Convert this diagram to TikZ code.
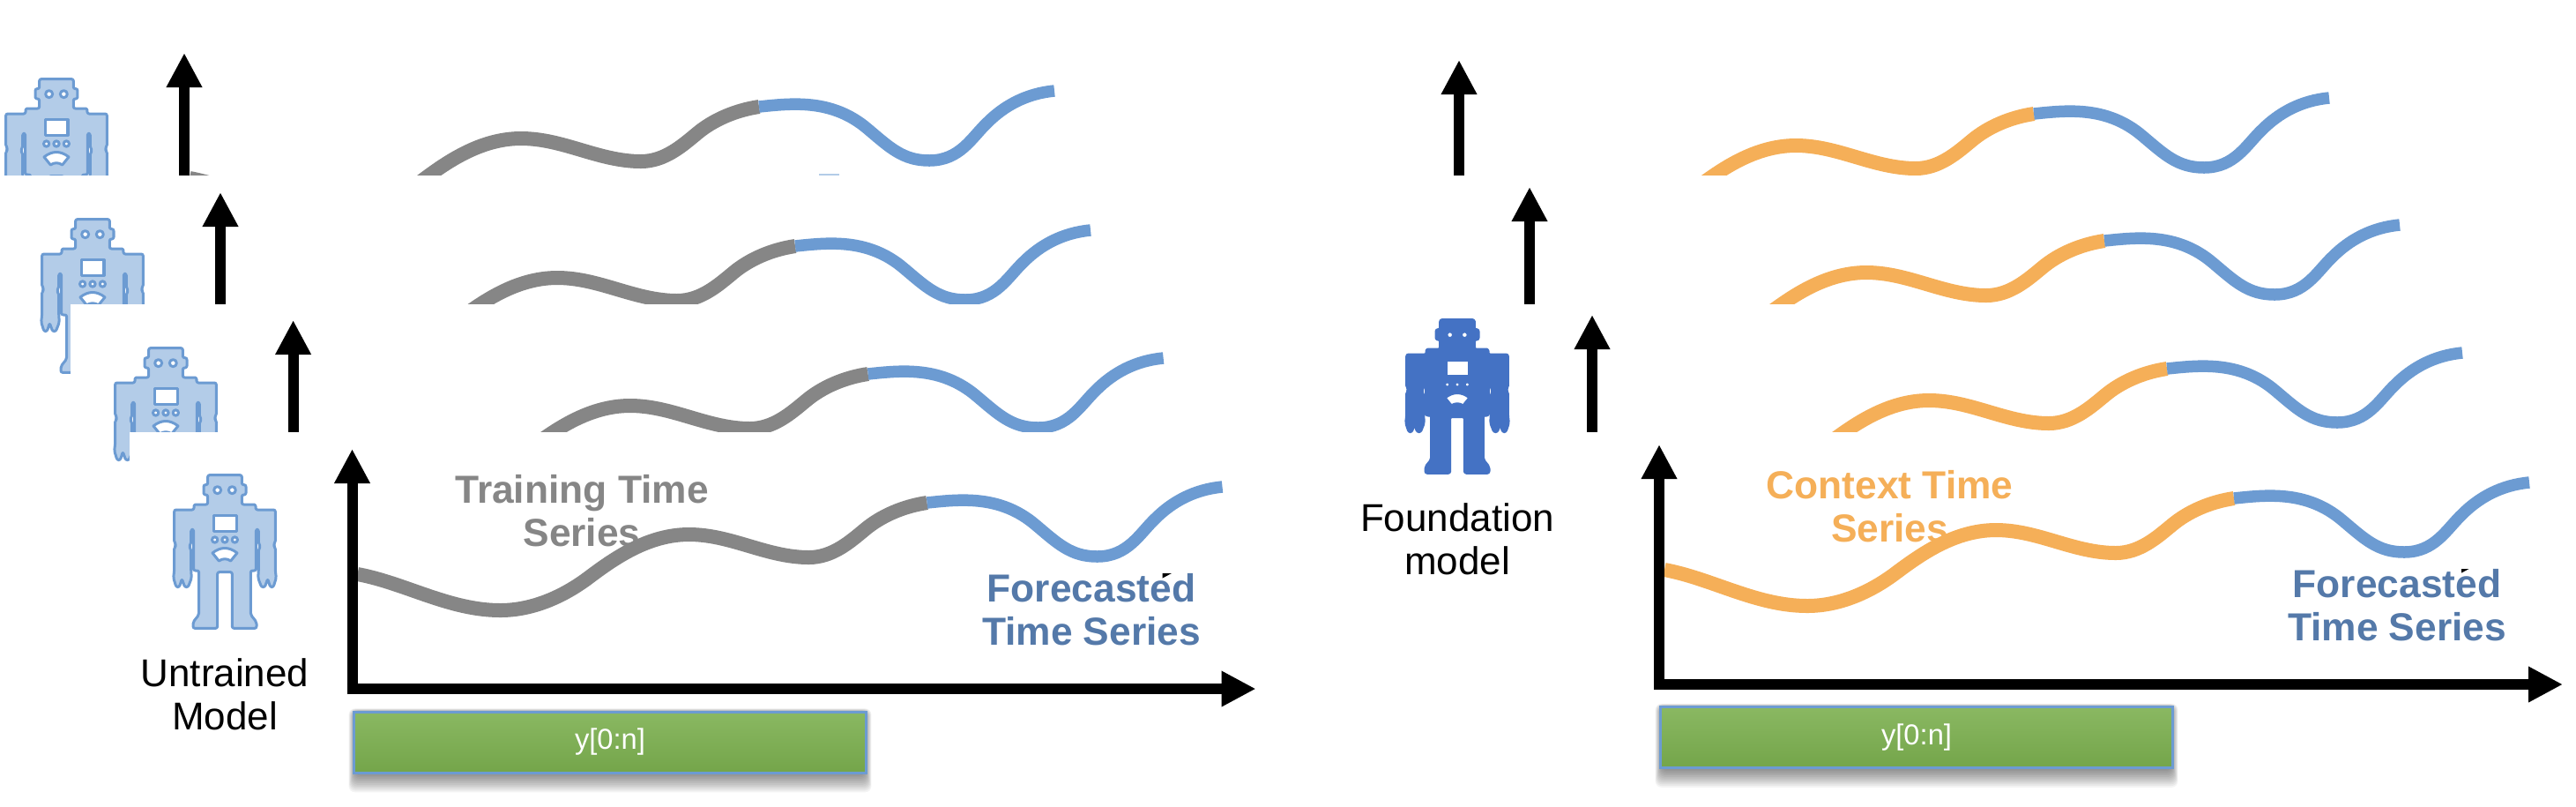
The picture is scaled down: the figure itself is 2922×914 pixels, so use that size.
\documentclass[tikz,border=0pt]{standalone}
\usepackage{fontspec}
\setmainfont{Liberation Sans}
\usetikzlibrary{arrows.meta}
\definecolor{robotline}{HTML}{6C9BD2}
\definecolor{robotfill}{HTML}{B3CCE8}
\definecolor{robotsolid}{HTML}{4472C4}
\definecolor{trainline}{HTML}{868686}
\definecolor{contextline}{HTML}{F5AF58}
\definecolor{forecasttext}{HTML}{5479A9}
\definecolor{bartop}{HTML}{8AB862}
\definecolor{barbottom}{HTML}{74A54A}
\tikzstyle{axis}=[draw=black, line width=.12cm, -{Triangle[length=.39cm, width=.38cm]}]
\tikzstyle{history}=[line width=.16cm]
\tikzstyle{forecast}=[draw=robotline, line width=.135cm]
\tikzstyle{modellabel}=[align=center, inner sep=0, font=\fontsize{12.5}{14}\selectfont]
\tikzstyle{serieslabel}=[align=center, inner sep=0, font=\fontsize{12.6}{14}\selectfont\bfseries]
\tikzstyle{greenbar}=[draw=robotline, line width=.03cm, minimum width=5.8cm, minimum height=.69cm, top color=bartop, bottom color=barbottom, text=white, font=\fontsize{9.3}{11}\selectfont]
\tikzset{
	pics/timepanel/.style={code={
		\coordinate (-ybase) at (0,6);
		\coordinate (-ytop) at (0,-272);
		\coordinate (-xbase) at (-6,0);
		\coordinate (-xend) at (1025,0);
		\draw[history, draw=#1] (6,-130) .. controls (60,-120) and (110,-89) .. (168,-89)
			.. controls (205,-89) and (240,-105) .. (268,-126)
			.. controls (296,-147) and (335,-175) .. (382,-175)
			.. controls (430,-175) and (470,-149) .. (518,-149)
			.. controls (545,-149) and (565,-167) .. (582,-181)
			.. controls (600,-196) and (625,-207) .. (652,-211);
		\draw[forecast] (652,-211) .. controls (690,-215) and (735,-220) .. (775,-186)
			.. controls (800,-165) and (815,-150) .. (845,-150)
			.. controls (880,-150) and (893,-176) .. (911,-193)
			.. controls (930,-212) and (955,-226) .. (987,-229);
		\draw[axis] (-ybase) -- (-ytop);
		\draw[axis] (-xbase) -- (-xend);
	}},
	pics/barshadow/.style={code={
		\foreach \g in {1,...,14}
			\fill[black, opacity=.045, rounded corners=2pt] (-288-.6*\g,-33+.4-.4*\g) rectangle (288+.6*\g,33+1.7*\g);
	}},
	pics/robot/.style 2 args={code={
		\begin{scope}[scale=.3333, draw=#1, line width=.03cm, line join=round]
			\draw[fill=#2, rounded corners=.6pt] (58,5) -- (58,38) -- (72,38) -- (72,72) -- (58,72) -- (58,105) -- (105,105)
				-- (105,123) -- (172,123) -- (172,235) -- (165,243) -- (172,250) -- (172,330) -- (175,355) -- (165,386)
				-- (155,386) -- (146,358) -- (136,386) -- (125,386) -- (113,355) -- (115,330) -- (115,255) -- (122,248)
				-- (115,240) -- (115,190) -- (106,190) -- (106,330) -- (88,330) -- (88,480) -- (108,505) -- (108,526)
				-- (25,526) -- (25,335) -- (-25,335) -- (-25,526) -- (-108,526) -- (-108,505) -- (-88,480) -- (-88,330)
				-- (-106,330) -- (-106,190) -- (-115,190) -- (-115,240) -- (-122,248) -- (-115,255) -- (-115,330)
				-- (-113,355) -- (-125,386) -- (-136,386) -- (-146,358) -- (-155,386) -- (-165,386) -- (-175,355)
				-- (-172,330) -- (-172,250) -- (-165,243) -- (-172,235) -- (-172,123) -- (-105,123) -- (-105,105)
				-- (-58,105) -- (-58,72) -- (-72,72) -- (-72,38) -- (-58,38) -- (-58,5) -- cycle;
			\draw[fill=white] (-39,143) rectangle (39,195);
			\foreach \ex in {-25,25}
				\draw[fill=white] (\ex,56) circle (12);
			\foreach \dotx in {-34,0,34}
				\draw[fill=white] (\dotx,225) circle (9.5);
			\draw[fill=white] (-42,270) .. controls (-15,248) and (15,248) .. (42,270) -- (20,297)
				.. controls (8,288) and (-8,288) .. (-20,297) -- cycle;
		\end{scope}
	}}
}
\begin{document}
\begin{tikzpicture}[x=.01cm, y=-.01cm]
	\path[use as bounding box] (0,0) rectangle (2922,914);

	\pic (trainA) at (209,332) {timepanel=trainline};
	\pic (botA) at (64,88) {robot={robotline}{robotfill}};
	\fill[white] (0,199) rectangle (1500,345);
	\fill[robotfill] (929,197) rectangle (952,199);
	\pic (trainB) at (250,490) {timepanel=trainline};
	\pic (botB) at (105,247) {robot={robotline}{robotfill}};
	\fill[white] (80,345) rectangle (1500,500);
	\pic (trainC) at (332.6,635) {timepanel=trainline};
	\pic (botC) at (188,393) {robot={robotline}{robotfill}};
	\fill[white] (147,490) rectangle (1500,650);
	\pic (trainD) at (399.5,781) {timepanel=trainline};
	\pic (botD) at (255,537) {robot={robotline}{robotfill}};

	\foreach \dx/\dy/\cut in {-227/-436/199, -147/-292/345, -76/-147/490}{
		\pic at (1882+\dx,776+\dy) {timepanel=contextline};
		\fill[white] (1500,\cut) rectangle ++(1422,155);
	}
	\pic (contextD) at (1882,776) {timepanel=contextline};
	\pic (botF) at (1653,361) {robot={robotsolid}{robotsolid}};

	\node[modellabel] (untrained) at (255,787) {Untrained\\Model};
	\node[modellabel] (foundation) at (1653,611) {Foundation\\model};
	\node[serieslabel, text=trainline] (training) at (660,579) {Training Time\\Series};
	\node[serieslabel, text=contextline] (context) at (2143.6,574) {Context Time\\Series};
	\node[serieslabel, text=forecasttext] (forecastL) at (1238,691) {Forecasted\\Time Series};
	\node[serieslabel, text=forecasttext] (forecastR) at (2719,686) {Forecasted\\Time Series};

	\pic at (692,841.5) {barshadow};
	\pic at (2174,836) {barshadow};
	\node[greenbar] (barL) at (692,841.5) {y[0:n]};
	\node[greenbar] (barR) at (2174,836) {y[0:n]};
\end{tikzpicture}
\end{document}
